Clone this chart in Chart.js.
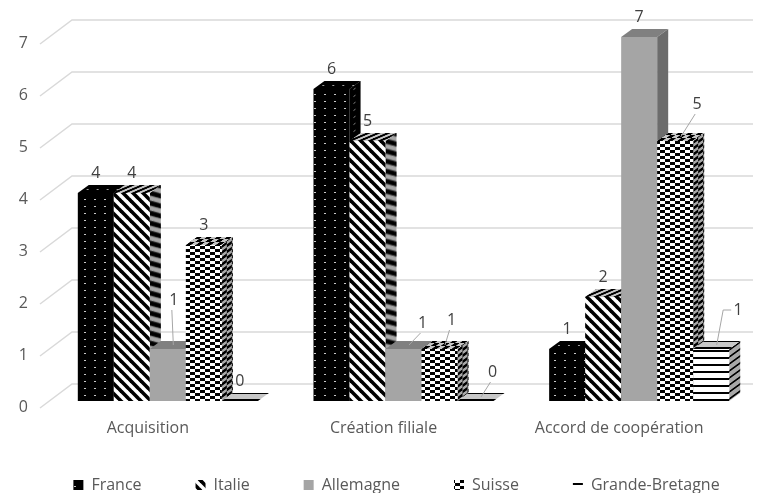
<!DOCTYPE html>
<html>
<head>
<meta charset="utf-8">
<script src="https://cdn.jsdelivr.net/npm/chart.js@4.4.0/dist/chart.umd.min.js"></script>
<style>
  html, body { margin: 0; padding: 0; background: #ffffff; overflow: hidden; }
  canvas { display: block; }
</style>
</head>
<body>
<canvas id="chart" width="771" height="493"></canvas>
<script>
// Values per type of partnership and per country
const categories = ['Acquisition', 'Création filiale', 'Accord de coopération'];
const countries = ['France', 'Italie', 'Allemagne', 'Suisse', 'Grande-Bretagne'];
const franceValues = [4, 6, 1];
const italieValues = [4, 5, 2];
const allemagneValues = [1, 1, 7];
const suisseValues = [3, 1, 5];
const grandeBretagneValues = [0, 0, 1];
const yTickValues = [0, 1, 2, 3, 4, 5, 6, 7];

const FONT = "'Open Sans', 'DejaVu Sans', sans-serif";

// ---- fill patterns -------------------------------------------------------
function makePattern(w, h, paint) {
  const tile = document.createElement('canvas');
  tile.width = w; tile.height = h;
  paint(tile.getContext('2d'), w, h);
  return document.createElement('canvas').getContext('2d').createPattern(tile, 'repeat');
}
const dottedBlack = makePattern(10, 7, (g, w, h) => {
  g.fillStyle = '#000'; g.fillRect(0, 0, w, h);
  g.fillStyle = '#c8c8c8'; g.fillRect(4, 3, 2, 1);
});
const diagonalStripes = makePattern(10, 10, (g, w, h) => {
  g.fillStyle = '#fff'; g.fillRect(0, 0, w, h);
  g.strokeStyle = '#000'; g.lineWidth = 3.6;
  for (const k of [-10, 0, 10]) {
    g.beginPath(); g.moveTo(k - 1, -1); g.lineTo(k + 11, 11); g.stroke();
  }
});
const checker = makePattern(10, 6, (g, w, h) => {
  g.fillStyle = '#fff'; g.fillRect(0, 0, w, h);
  g.fillStyle = '#000';
  g.fillRect(0, 0, 5, 3); g.fillRect(5, 3, 5, 3);
});
const horizontalLines = makePattern(8, 7, (g, w, h) => {
  g.fillStyle = '#fff'; g.fillRect(0, 0, w, h);
  g.fillStyle = '#000'; g.fillRect(0, 0, w, 2);
});
const seriesFills = [dottedBlack, diagonalStripes, '#a5a5a5', checker, horizontalLines];
const seriesValues = [franceValues, italieValues, allemagneValues, suisseValues, grandeBretagneValues];

// ---- 3D look --------------------------------------------------------------
const BAR_DX = 11, BAR_DY = -8;      // bar depth
const WALL_DX = 32, WALL_DY = -24;   // floor depth (slanted tick lines)
const WALL_SHIFT = -17;             // back wall vs. front plane

function drawBar3D(ctx, el, fill) {
  const p = el.getProps(['x', 'y', 'base', 'width'], true);
  const left = p.x - p.width / 2, right = p.x + p.width / 2;
  const top = Math.min(p.y, p.base), bottom = Math.max(p.y, p.base);
  const h = bottom - top;
  const depthY = -BAR_DY;

  // right side face
  ctx.save();
  ctx.translate(right, top);
  ctx.transform(1, BAR_DY / BAR_DX, 0, 1, 0, 0);
  ctx.fillStyle = fill; ctx.fillRect(0, 0, BAR_DX, h);
  ctx.fillStyle = 'rgba(0,0,0,0.34)'; ctx.fillRect(0, 0, BAR_DX, h);
  ctx.restore();

  // top face
  ctx.save();
  ctx.translate(left, top);
  ctx.transform(1, 0, BAR_DX / depthY, -1, 0, 0);
  ctx.fillStyle = fill; ctx.fillRect(0, 0, p.width, depthY);
  ctx.fillStyle = 'rgba(0,0,0,0.22)'; ctx.fillRect(0, 0, p.width, depthY);
  ctx.restore();

  // front face, drawn by the bar element itself
  el.draw(ctx);
}

const bars3d = {
  id: 'bars3d',
  beforeDatasetsDraw(chart) {
    const ctx = chart.ctx;
    const y = chart.scales.y;
    const area = chart.chartArea;
    ctx.save();
    ctx.strokeStyle = '#d9d9d9';
    ctx.lineWidth = 1.5;
    const wallLeft = area.left + 22;
    const wallRight = area.right - 4;
    yTickValues.forEach(v => {
      const yFront = y.getPixelForValue(v);
      const yBack = yFront + WALL_SHIFT;
      ctx.beginPath();
      ctx.moveTo(wallLeft - WALL_DX, yBack - WALL_DY);
      ctx.lineTo(wallLeft, yBack);
      ctx.lineTo(wallRight, yBack);
      ctx.stroke();
    });
    ctx.restore();

    for (let j = 0; j < categories.length; j++) {
      for (let i = 0; i < chart.data.datasets.length; i++) {
        const meta = chart.getDatasetMeta(i);
        if (meta.hidden) continue;
        drawBar3D(ctx, meta.data[j], chart.data.datasets[i].backgroundColor);
      }
    }
    return false;
  }
};

// value labels, some of them pulled aside with a leader line
const valueLabels = {
  id: 'valueLabels',
  afterDraw(chart, args, opts) {
    const ctx = chart.ctx;
    ctx.save();
    ctx.font = `16px ${FONT}`;
    ctx.textAlign = 'center';
    ctx.textBaseline = 'middle';
    chart.data.datasets.forEach((ds, i) => {
      chart.getDatasetMeta(i).data.forEach((el, j) => {
        const p = el.getProps(['x', 'y'], true);
        const callout = opts.callouts[`${i}-${j}`];
        let lx = p.x, ly = p.y - 20;
        if (callout) {
          lx = p.x + callout[0];
          ly = p.y + callout[1];
          const sx = p.x + BAR_DX / 2, sy = p.y + BAR_DY / 2;
          ctx.strokeStyle = '#a6a6a6';
          ctx.lineWidth = 1;
          ctx.beginPath();
          ctx.moveTo(sx, sy);
          if (callout[2] === 'elbow') {
            ctx.lineTo(lx - 15, ly);
            ctx.lineTo(lx - 7, ly);
          } else {
            ctx.lineTo(lx - 2, ly + 10);
          }
          ctx.stroke();
        }
        ctx.fillStyle = '#404040';
        ctx.fillText(String(ds.data[j]), lx, ly);
      });
    });
    ctx.restore();
  }
};

// legend sits a little higher and to the right of its layout box
const legendNudge = {
  id: 'legendNudge',
  afterLayout(chart) {
    const l = chart.legend;
    l.left += 18; l.right += 18;
    l.top -= 18; l.bottom -= 18;
  }
};

new Chart(document.getElementById('chart'), {
  type: 'bar',
  data: {
    labels: categories,
    datasets: countries.map((name, i) => ({
      label: name,
      data: seriesValues[i],
      backgroundColor: seriesFills[i],
      borderWidth: 0,
      categoryPercentage: 0.764,
      barPercentage: 1
    }))
  },
  options: {
    responsive: false,
    animation: false,
    devicePixelRatio: 1,
    layout: { padding: { top: 37, right: 14, bottom: -28, left: 0 } },
    scales: {
      x: {
        grid: { display: false, drawTicks: false },
        border: { display: false },
        ticks: {
          padding: 18, labelOffset: -20, maxRotation: 0, autoSkip: false,
          color: '#595959', font: { family: FONT, size: 16 }
        },
        afterFit(s) { s.height = 40; }
      },
      y: {
        min: 0, max: 7,
        grid: { display: false, drawTicks: false },
        border: { display: false },
        ticks: {
          stepSize: 1, padding: 22, labelOffset: 6,
          color: '#595959', font: { family: FONT, size: 16 }
        },
        afterFit(s) { s.width = 50; }
      }
    },
    plugins: {
      legend: {
        position: 'bottom',
        labels: {
          boxWidth: 10, boxHeight: 10, padding: 54,
          color: '#595959', font: { family: FONT, size: 16 }
        }
      },
      tooltip: { enabled: false },
      valueLabels: {
        callouts: {
          '2-0': [6, -49],
          '2-1': [19, -26],
          '3-1': [12, -29],
          '4-1': [17, -29],
          '3-2': [22, -37],
          '4-2': [27, -39, 'elbow']
        }
      }
    }
  },
  plugins: [bars3d, valueLabels, legendNudge]
});
</script>
</body>
</html>
